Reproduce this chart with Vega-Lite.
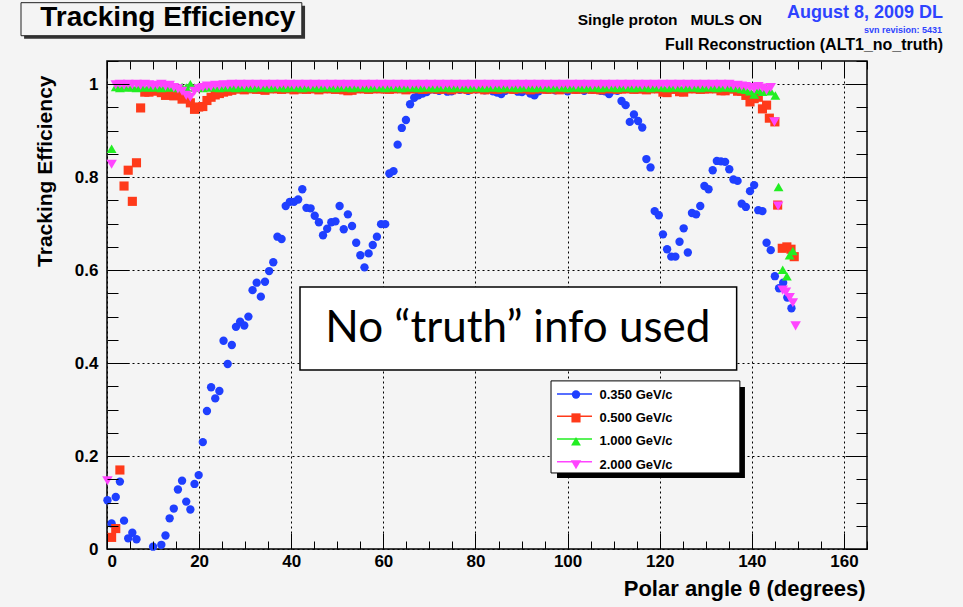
{
  "$schema": "https://vega.github.io/schema/vega-lite/v6.json",
  "width": 760,
  "height": 488,
  "autosize": {"type": "none"},
  "padding": {"left": 107, "top": 61, "right": 96, "bottom": 58},
  "background": "#f4f4f4",
  "config": {
    "view": {"stroke": "black", "strokeWidth": 1.5, "fill": null},
    "axis": {"domain": false, "labelFont": "Liberation Sans", "titleFont": "Liberation Sans"}
  },
  "resolve": {"axis": {"x": "independent", "y": "independent"}},
  "datasets": {
    "pts": [
      {"p":"0.350 GeV/c","theta":0.1,"eff":0.105},{"p":"0.350 GeV/c","theta":1.0,"eff":0.055},{"p":"0.350 GeV/c","theta":1.9,"eff":0.112},{"p":"0.350 GeV/c","theta":2.8,"eff":0.145},{"p":"0.350 GeV/c","theta":3.7,"eff":0.061},{"p":"0.350 GeV/c","theta":4.6,"eff":0.023},{"p":"0.350 GeV/c","theta":5.5,"eff":0.035},{"p":"0.350 GeV/c","theta":6.4,"eff":0.021},{"p":"0.350 GeV/c","theta":10.0,"eff":0.005},{"p":"0.350 GeV/c","theta":11.8,"eff":0.009},{"p":"0.350 GeV/c","theta":12.7,"eff":0.029},{"p":"0.350 GeV/c","theta":13.6,"eff":0.066},{"p":"0.350 GeV/c","theta":14.5,"eff":0.087},{"p":"0.350 GeV/c","theta":15.4,"eff":0.128},{"p":"0.350 GeV/c","theta":16.3,"eff":0.147},{"p":"0.350 GeV/c","theta":17.2,"eff":0.102},{"p":"0.350 GeV/c","theta":18.1,"eff":0.085},{"p":"0.350 GeV/c","theta":19.0,"eff":0.14},{"p":"0.350 GeV/c","theta":19.9,"eff":0.159},{"p":"0.350 GeV/c","theta":20.8,"eff":0.23},{"p":"0.350 GeV/c","theta":21.7,"eff":0.297},{"p":"0.350 GeV/c","theta":22.6,"eff":0.348},{"p":"0.350 GeV/c","theta":23.5,"eff":0.324},{"p":"0.350 GeV/c","theta":24.4,"eff":0.34},{"p":"0.350 GeV/c","theta":25.3,"eff":0.448},{"p":"0.350 GeV/c","theta":26.2,"eff":0.398},{"p":"0.350 GeV/c","theta":27.1,"eff":0.439},{"p":"0.350 GeV/c","theta":28.0,"eff":0.478},{"p":"0.350 GeV/c","theta":28.9,"eff":0.489},{"p":"0.350 GeV/c","theta":29.8,"eff":0.481},{"p":"0.350 GeV/c","theta":30.7,"eff":0.5},{"p":"0.350 GeV/c","theta":31.6,"eff":0.557},{"p":"0.350 GeV/c","theta":32.5,"eff":0.573},{"p":"0.350 GeV/c","theta":33.4,"eff":0.543},{"p":"0.350 GeV/c","theta":34.3,"eff":0.575},{"p":"0.350 GeV/c","theta":35.2,"eff":0.598},{"p":"0.350 GeV/c","theta":36.1,"eff":0.617},{"p":"0.350 GeV/c","theta":37.0,"eff":0.672},{"p":"0.350 GeV/c","theta":37.9,"eff":0.667},{"p":"0.350 GeV/c","theta":38.8,"eff":0.738},{"p":"0.350 GeV/c","theta":39.7,"eff":0.747},{"p":"0.350 GeV/c","theta":40.6,"eff":0.747},{"p":"0.350 GeV/c","theta":41.5,"eff":0.752},{"p":"0.350 GeV/c","theta":42.4,"eff":0.774},{"p":"0.350 GeV/c","theta":43.3,"eff":0.734},{"p":"0.350 GeV/c","theta":44.2,"eff":0.733},{"p":"0.350 GeV/c","theta":45.1,"eff":0.717},{"p":"0.350 GeV/c","theta":46.0,"eff":0.703},{"p":"0.350 GeV/c","theta":46.9,"eff":0.675},{"p":"0.350 GeV/c","theta":47.8,"eff":0.689},{"p":"0.350 GeV/c","theta":48.7,"eff":0.703},{"p":"0.350 GeV/c","theta":49.6,"eff":0.705},{"p":"0.350 GeV/c","theta":50.5,"eff":0.738},{"p":"0.350 GeV/c","theta":51.4,"eff":0.688},{"p":"0.350 GeV/c","theta":52.3,"eff":0.72},{"p":"0.350 GeV/c","theta":53.2,"eff":0.695},{"p":"0.350 GeV/c","theta":54.1,"eff":0.659},{"p":"0.350 GeV/c","theta":55.0,"eff":0.632},{"p":"0.350 GeV/c","theta":55.9,"eff":0.606},{"p":"0.350 GeV/c","theta":56.8,"eff":0.636},{"p":"0.350 GeV/c","theta":57.7,"eff":0.654},{"p":"0.350 GeV/c","theta":58.6,"eff":0.672},{"p":"0.350 GeV/c","theta":59.5,"eff":0.699},{"p":"0.350 GeV/c","theta":60.4,"eff":0.699},{"p":"0.350 GeV/c","theta":61.3,"eff":0.808},{"p":"0.350 GeV/c","theta":62.2,"eff":0.813},{"p":"0.350 GeV/c","theta":63.1,"eff":0.87},{"p":"0.350 GeV/c","theta":64.0,"eff":0.906},{"p":"0.350 GeV/c","theta":64.9,"eff":0.923},{"p":"0.350 GeV/c","theta":65.8,"eff":0.957},{"p":"0.350 GeV/c","theta":66.7,"eff":0.971},{"p":"0.350 GeV/c","theta":67.6,"eff":0.976},{"p":"0.350 GeV/c","theta":68.5,"eff":0.98},{"p":"0.350 GeV/c","theta":69.4,"eff":0.983},{"p":"0.350 GeV/c","theta":70.3,"eff":0.989},{"p":"0.350 GeV/c","theta":71.2,"eff":0.988},{"p":"0.350 GeV/c","theta":72.1,"eff":0.986},{"p":"0.350 GeV/c","theta":73.0,"eff":0.99},{"p":"0.350 GeV/c","theta":73.9,"eff":0.984},{"p":"0.350 GeV/c","theta":74.8,"eff":0.985},{"p":"0.350 GeV/c","theta":75.7,"eff":0.99},{"p":"0.350 GeV/c","theta":76.6,"eff":0.988},{"p":"0.350 GeV/c","theta":77.5,"eff":0.99},{"p":"0.350 GeV/c","theta":78.4,"eff":0.986},{"p":"0.350 GeV/c","theta":79.3,"eff":0.99},{"p":"0.350 GeV/c","theta":80.2,"eff":0.989},{"p":"0.350 GeV/c","theta":81.1,"eff":0.99},{"p":"0.350 GeV/c","theta":82.0,"eff":0.987},{"p":"0.350 GeV/c","theta":82.9,"eff":0.99},{"p":"0.350 GeV/c","theta":83.8,"eff":0.985},{"p":"0.350 GeV/c","theta":84.7,"eff":0.982},{"p":"0.350 GeV/c","theta":85.6,"eff":0.979},{"p":"0.350 GeV/c","theta":86.5,"eff":0.986},{"p":"0.350 GeV/c","theta":87.4,"eff":0.99},{"p":"0.350 GeV/c","theta":88.3,"eff":0.988},{"p":"0.350 GeV/c","theta":89.2,"eff":0.984},{"p":"0.350 GeV/c","theta":90.1,"eff":0.983},{"p":"0.350 GeV/c","theta":91.0,"eff":0.987},{"p":"0.350 GeV/c","theta":91.9,"eff":0.98},{"p":"0.350 GeV/c","theta":92.8,"eff":0.976},{"p":"0.350 GeV/c","theta":93.7,"eff":0.985},{"p":"0.350 GeV/c","theta":94.6,"eff":0.99},{"p":"0.350 GeV/c","theta":95.5,"eff":0.988},{"p":"0.350 GeV/c","theta":96.4,"eff":0.99},{"p":"0.350 GeV/c","theta":97.3,"eff":0.987},{"p":"0.350 GeV/c","theta":98.2,"eff":0.99},{"p":"0.350 GeV/c","theta":99.1,"eff":0.989},{"p":"0.350 GeV/c","theta":100.0,"eff":0.985},{"p":"0.350 GeV/c","theta":100.9,"eff":0.99},{"p":"0.350 GeV/c","theta":101.8,"eff":0.988},{"p":"0.350 GeV/c","theta":102.7,"eff":0.99},{"p":"0.350 GeV/c","theta":103.6,"eff":0.986},{"p":"0.350 GeV/c","theta":104.5,"eff":0.99},{"p":"0.350 GeV/c","theta":105.4,"eff":0.988},{"p":"0.350 GeV/c","theta":106.3,"eff":0.99},{"p":"0.350 GeV/c","theta":107.2,"eff":0.986},{"p":"0.350 GeV/c","theta":108.1,"eff":0.985},{"p":"0.350 GeV/c","theta":109.0,"eff":0.979},{"p":"0.350 GeV/c","theta":109.9,"eff":0.987},{"p":"0.350 GeV/c","theta":110.8,"eff":0.986},{"p":"0.350 GeV/c","theta":111.7,"eff":0.964},{"p":"0.350 GeV/c","theta":112.6,"eff":0.955},{"p":"0.350 GeV/c","theta":113.5,"eff":0.919},{"p":"0.350 GeV/c","theta":114.4,"eff":0.935},{"p":"0.350 GeV/c","theta":115.3,"eff":0.921},{"p":"0.350 GeV/c","theta":116.2,"eff":0.907},{"p":"0.350 GeV/c","theta":117.1,"eff":0.839},{"p":"0.350 GeV/c","theta":118.0,"eff":0.821},{"p":"0.350 GeV/c","theta":118.9,"eff":0.727},{"p":"0.350 GeV/c","theta":119.8,"eff":0.718},{"p":"0.350 GeV/c","theta":120.7,"eff":0.677},{"p":"0.350 GeV/c","theta":121.6,"eff":0.645},{"p":"0.350 GeV/c","theta":122.5,"eff":0.629},{"p":"0.350 GeV/c","theta":123.4,"eff":0.629},{"p":"0.350 GeV/c","theta":124.3,"eff":0.661},{"p":"0.350 GeV/c","theta":125.2,"eff":0.69},{"p":"0.350 GeV/c","theta":126.1,"eff":0.638},{"p":"0.350 GeV/c","theta":127.0,"eff":0.723},{"p":"0.350 GeV/c","theta":127.9,"eff":0.72},{"p":"0.350 GeV/c","theta":128.8,"eff":0.738},{"p":"0.350 GeV/c","theta":129.7,"eff":0.781},{"p":"0.350 GeV/c","theta":130.6,"eff":0.774},{"p":"0.350 GeV/c","theta":131.5,"eff":0.815},{"p":"0.350 GeV/c","theta":132.4,"eff":0.835},{"p":"0.350 GeV/c","theta":133.3,"eff":0.834},{"p":"0.350 GeV/c","theta":134.2,"eff":0.833},{"p":"0.350 GeV/c","theta":135.1,"eff":0.817},{"p":"0.350 GeV/c","theta":136.0,"eff":0.795},{"p":"0.350 GeV/c","theta":136.9,"eff":0.792},{"p":"0.350 GeV/c","theta":137.8,"eff":0.743},{"p":"0.350 GeV/c","theta":138.7,"eff":0.736},{"p":"0.350 GeV/c","theta":139.6,"eff":0.77},{"p":"0.350 GeV/c","theta":140.5,"eff":0.783},{"p":"0.350 GeV/c","theta":141.4,"eff":0.729},{"p":"0.350 GeV/c","theta":142.3,"eff":0.727},{"p":"0.350 GeV/c","theta":143.2,"eff":0.659},{"p":"0.350 GeV/c","theta":144.1,"eff":0.643},{"p":"0.350 GeV/c","theta":145.0,"eff":0.587},{"p":"0.350 GeV/c","theta":145.9,"eff":0.561},{"p":"0.350 GeV/c","theta":146.8,"eff":0.573},{"p":"0.350 GeV/c","theta":147.7,"eff":0.541},{"p":"0.350 GeV/c","theta":148.6,"eff":0.518},

      {"p":"0.500 GeV/c","theta":1.0,"eff":0.025},{"p":"0.500 GeV/c","theta":1.9,"eff":0.044},{"p":"0.500 GeV/c","theta":2.8,"eff":0.17},{"p":"0.500 GeV/c","theta":3.7,"eff":0.781},{"p":"0.500 GeV/c","theta":4.6,"eff":0.815},{"p":"0.500 GeV/c","theta":5.5,"eff":0.748},{"p":"0.500 GeV/c","theta":6.4,"eff":0.831},{"p":"0.500 GeV/c","theta":7.3,"eff":0.949},{"p":"0.500 GeV/c","theta":8.2,"eff":0.983},{"p":"0.500 GeV/c","theta":9.1,"eff":0.983},{"p":"0.500 GeV/c","theta":10.0,"eff":0.988},{"p":"0.500 GeV/c","theta":10.9,"eff":0.985},{"p":"0.500 GeV/c","theta":11.8,"eff":0.982},{"p":"0.500 GeV/c","theta":12.7,"eff":0.976},{"p":"0.500 GeV/c","theta":13.6,"eff":0.985},{"p":"0.500 GeV/c","theta":14.5,"eff":0.975},{"p":"0.500 GeV/c","theta":15.4,"eff":0.98},{"p":"0.500 GeV/c","theta":16.3,"eff":0.968},{"p":"0.500 GeV/c","theta":17.2,"eff":0.972},{"p":"0.500 GeV/c","theta":18.1,"eff":0.96},{"p":"0.500 GeV/c","theta":19.0,"eff":0.946},{"p":"0.500 GeV/c","theta":19.9,"eff":0.951},{"p":"0.500 GeV/c","theta":20.8,"eff":0.952},{"p":"0.500 GeV/c","theta":21.7,"eff":0.965},{"p":"0.500 GeV/c","theta":22.6,"eff":0.972},{"p":"0.500 GeV/c","theta":23.5,"eff":0.977},{"p":"0.500 GeV/c","theta":24.4,"eff":0.98},{"p":"0.500 GeV/c","theta":25.3,"eff":0.983},{"p":"0.500 GeV/c","theta":26.2,"eff":0.985},{"p":"0.500 GeV/c","theta":27.1,"eff":0.987},{"p":"0.500 GeV/c","theta":28.0,"eff":0.99},{"p":"0.500 GeV/c","theta":28.9,"eff":0.99},{"p":"0.500 GeV/c","theta":29.8,"eff":0.988},{"p":"0.500 GeV/c","theta":30.7,"eff":0.99},{"p":"0.500 GeV/c","theta":31.6,"eff":0.991},{"p":"0.500 GeV/c","theta":32.5,"eff":0.989},{"p":"0.500 GeV/c","theta":33.4,"eff":0.99},{"p":"0.500 GeV/c","theta":34.3,"eff":0.987},{"p":"0.500 GeV/c","theta":35.2,"eff":0.99},{"p":"0.500 GeV/c","theta":36.1,"eff":0.991},{"p":"0.500 GeV/c","theta":37.0,"eff":0.99},{"p":"0.500 GeV/c","theta":37.9,"eff":0.989},{"p":"0.500 GeV/c","theta":38.8,"eff":0.99},{"p":"0.500 GeV/c","theta":39.7,"eff":0.991},{"p":"0.500 GeV/c","theta":40.6,"eff":0.988},{"p":"0.500 GeV/c","theta":41.5,"eff":0.99},{"p":"0.500 GeV/c","theta":42.4,"eff":0.99},{"p":"0.500 GeV/c","theta":43.3,"eff":0.989},{"p":"0.500 GeV/c","theta":44.2,"eff":0.991},{"p":"0.500 GeV/c","theta":45.1,"eff":0.99},{"p":"0.500 GeV/c","theta":46.0,"eff":0.988},{"p":"0.500 GeV/c","theta":46.9,"eff":0.99},{"p":"0.500 GeV/c","theta":47.8,"eff":0.991},{"p":"0.500 GeV/c","theta":48.7,"eff":0.99},{"p":"0.500 GeV/c","theta":49.6,"eff":0.989},{"p":"0.500 GeV/c","theta":50.5,"eff":0.99},{"p":"0.500 GeV/c","theta":51.4,"eff":0.988},{"p":"0.500 GeV/c","theta":52.3,"eff":0.986},{"p":"0.500 GeV/c","theta":53.2,"eff":0.987},{"p":"0.500 GeV/c","theta":54.1,"eff":0.99},{"p":"0.500 GeV/c","theta":55.0,"eff":0.991},{"p":"0.500 GeV/c","theta":55.9,"eff":0.99},{"p":"0.500 GeV/c","theta":56.8,"eff":0.989},{"p":"0.500 GeV/c","theta":57.7,"eff":0.99},{"p":"0.500 GeV/c","theta":58.6,"eff":0.991},{"p":"0.500 GeV/c","theta":59.5,"eff":0.99},{"p":"0.500 GeV/c","theta":60.4,"eff":0.99},{"p":"0.500 GeV/c","theta":61.3,"eff":0.989},{"p":"0.500 GeV/c","theta":62.2,"eff":0.99},{"p":"0.500 GeV/c","theta":63.1,"eff":0.991},{"p":"0.500 GeV/c","theta":64.0,"eff":0.99},{"p":"0.500 GeV/c","theta":64.9,"eff":0.988},{"p":"0.500 GeV/c","theta":65.8,"eff":0.99},{"p":"0.500 GeV/c","theta":66.7,"eff":0.991},{"p":"0.500 GeV/c","theta":67.6,"eff":0.99},{"p":"0.500 GeV/c","theta":68.5,"eff":0.989},{"p":"0.500 GeV/c","theta":69.4,"eff":0.99},{"p":"0.500 GeV/c","theta":70.3,"eff":0.99},{"p":"0.500 GeV/c","theta":71.2,"eff":0.991},{"p":"0.500 GeV/c","theta":72.1,"eff":0.989},{"p":"0.500 GeV/c","theta":73.0,"eff":0.99},{"p":"0.500 GeV/c","theta":73.9,"eff":0.99},{"p":"0.500 GeV/c","theta":74.8,"eff":0.988},{"p":"0.500 GeV/c","theta":75.7,"eff":0.99},{"p":"0.500 GeV/c","theta":76.6,"eff":0.991},{"p":"0.500 GeV/c","theta":77.5,"eff":0.99},{"p":"0.500 GeV/c","theta":78.4,"eff":0.989},{"p":"0.500 GeV/c","theta":79.3,"eff":0.99},{"p":"0.500 GeV/c","theta":80.2,"eff":0.991},{"p":"0.500 GeV/c","theta":81.1,"eff":0.99},{"p":"0.500 GeV/c","theta":82.0,"eff":0.988},{"p":"0.500 GeV/c","theta":82.9,"eff":0.99},{"p":"0.500 GeV/c","theta":83.8,"eff":0.99},{"p":"0.500 GeV/c","theta":84.7,"eff":0.989},{"p":"0.500 GeV/c","theta":85.6,"eff":0.99},{"p":"0.500 GeV/c","theta":86.5,"eff":0.991},{"p":"0.500 GeV/c","theta":87.4,"eff":0.99},{"p":"0.500 GeV/c","theta":88.3,"eff":0.989},{"p":"0.500 GeV/c","theta":89.2,"eff":0.99},{"p":"0.500 GeV/c","theta":90.1,"eff":0.991},{"p":"0.500 GeV/c","theta":91.0,"eff":0.99},{"p":"0.500 GeV/c","theta":91.9,"eff":0.988},{"p":"0.500 GeV/c","theta":92.8,"eff":0.99},{"p":"0.500 GeV/c","theta":93.7,"eff":0.99},{"p":"0.500 GeV/c","theta":94.6,"eff":0.991},{"p":"0.500 GeV/c","theta":95.5,"eff":0.989},{"p":"0.500 GeV/c","theta":96.4,"eff":0.99},{"p":"0.500 GeV/c","theta":97.3,"eff":0.99},{"p":"0.500 GeV/c","theta":98.2,"eff":0.988},{"p":"0.500 GeV/c","theta":99.1,"eff":0.99},{"p":"0.500 GeV/c","theta":100.0,"eff":0.991},{"p":"0.500 GeV/c","theta":100.9,"eff":0.99},{"p":"0.500 GeV/c","theta":101.8,"eff":0.989},{"p":"0.500 GeV/c","theta":102.7,"eff":0.99},{"p":"0.500 GeV/c","theta":103.6,"eff":0.99},{"p":"0.500 GeV/c","theta":104.5,"eff":0.991},{"p":"0.500 GeV/c","theta":105.4,"eff":0.989},{"p":"0.500 GeV/c","theta":106.3,"eff":0.99},{"p":"0.500 GeV/c","theta":107.2,"eff":0.988},{"p":"0.500 GeV/c","theta":108.1,"eff":0.99},{"p":"0.500 GeV/c","theta":109.0,"eff":0.991},{"p":"0.500 GeV/c","theta":109.9,"eff":0.99},{"p":"0.500 GeV/c","theta":110.8,"eff":0.989},{"p":"0.500 GeV/c","theta":111.7,"eff":0.99},{"p":"0.500 GeV/c","theta":112.6,"eff":0.99},{"p":"0.500 GeV/c","theta":113.5,"eff":0.991},{"p":"0.500 GeV/c","theta":114.4,"eff":0.989},{"p":"0.500 GeV/c","theta":115.3,"eff":0.99},{"p":"0.500 GeV/c","theta":116.2,"eff":0.99},{"p":"0.500 GeV/c","theta":117.1,"eff":0.988},{"p":"0.500 GeV/c","theta":118.0,"eff":0.99},{"p":"0.500 GeV/c","theta":118.9,"eff":0.991},{"p":"0.500 GeV/c","theta":119.8,"eff":0.99},{"p":"0.500 GeV/c","theta":120.7,"eff":0.983},{"p":"0.500 GeV/c","theta":121.6,"eff":0.982},{"p":"0.500 GeV/c","theta":122.5,"eff":0.989},{"p":"0.500 GeV/c","theta":123.4,"eff":0.99},{"p":"0.500 GeV/c","theta":124.3,"eff":0.984},{"p":"0.500 GeV/c","theta":125.2,"eff":0.983},{"p":"0.500 GeV/c","theta":126.1,"eff":0.99},{"p":"0.500 GeV/c","theta":127.0,"eff":0.991},{"p":"0.500 GeV/c","theta":127.9,"eff":0.99},{"p":"0.500 GeV/c","theta":128.8,"eff":0.989},{"p":"0.500 GeV/c","theta":129.7,"eff":0.99},{"p":"0.500 GeV/c","theta":130.6,"eff":0.99},{"p":"0.500 GeV/c","theta":131.5,"eff":0.991},{"p":"0.500 GeV/c","theta":132.4,"eff":0.99},{"p":"0.500 GeV/c","theta":133.3,"eff":0.986},{"p":"0.500 GeV/c","theta":134.2,"eff":0.986},{"p":"0.500 GeV/c","theta":135.1,"eff":0.99},{"p":"0.500 GeV/c","theta":136.0,"eff":0.99},{"p":"0.500 GeV/c","theta":136.9,"eff":0.985},{"p":"0.500 GeV/c","theta":137.8,"eff":0.985},{"p":"0.500 GeV/c","theta":138.7,"eff":0.976},{"p":"0.500 GeV/c","theta":139.6,"eff":0.962},{"p":"0.500 GeV/c","theta":140.5,"eff":0.969},{"p":"0.500 GeV/c","theta":141.4,"eff":0.972},{"p":"0.500 GeV/c","theta":142.3,"eff":0.947},{"p":"0.500 GeV/c","theta":143.2,"eff":0.955},{"p":"0.500 GeV/c","theta":143.8,"eff":0.927},{"p":"0.500 GeV/c","theta":145.0,"eff":0.919},{"p":"0.500 GeV/c","theta":145.6,"eff":0.74},{"p":"0.500 GeV/c","theta":146.6,"eff":0.647},{"p":"0.500 GeV/c","theta":147.6,"eff":0.65},{"p":"0.500 GeV/c","theta":148.5,"eff":0.645},{"p":"0.500 GeV/c","theta":149.2,"eff":0.629},

      {"p":"1.000 GeV/c","theta":1.0,"eff":0.861},{"p":"1.000 GeV/c","theta":1.9,"eff":0.994},{"p":"1.000 GeV/c","theta":2.8,"eff":0.992},{"p":"1.000 GeV/c","theta":3.7,"eff":0.995},{"p":"1.000 GeV/c","theta":4.6,"eff":0.993},{"p":"1.000 GeV/c","theta":5.5,"eff":0.994},{"p":"1.000 GeV/c","theta":6.4,"eff":0.992},{"p":"1.000 GeV/c","theta":7.3,"eff":0.995},{"p":"1.000 GeV/c","theta":8.2,"eff":0.993},{"p":"1.000 GeV/c","theta":9.1,"eff":0.994},{"p":"1.000 GeV/c","theta":10.0,"eff":0.993},{"p":"1.000 GeV/c","theta":10.9,"eff":0.995},{"p":"1.000 GeV/c","theta":11.8,"eff":0.992},{"p":"1.000 GeV/c","theta":12.7,"eff":0.994},{"p":"1.000 GeV/c","theta":13.6,"eff":0.993},{"p":"1.000 GeV/c","theta":14.5,"eff":0.995},{"p":"1.000 GeV/c","theta":15.4,"eff":0.992},{"p":"1.000 GeV/c","theta":16.3,"eff":0.994},{"p":"1.000 GeV/c","theta":17.2,"eff":0.993},{"p":"1.000 GeV/c","theta":18.1,"eff":1.0},{"p":"1.000 GeV/c","theta":19.0,"eff":0.993},{"p":"1.000 GeV/c","theta":19.9,"eff":0.994},{"p":"1.000 GeV/c","theta":20.8,"eff":0.992},{"p":"1.000 GeV/c","theta":21.7,"eff":0.995},{"p":"1.000 GeV/c","theta":22.6,"eff":0.993},{"p":"1.000 GeV/c","theta":23.5,"eff":0.994},{"p":"1.000 GeV/c","theta":24.4,"eff":0.992},{"p":"1.000 GeV/c","theta":25.3,"eff":0.995},{"p":"1.000 GeV/c","theta":26.2,"eff":0.993},{"p":"1.000 GeV/c","theta":27.1,"eff":0.994},{"p":"1.000 GeV/c","theta":28.0,"eff":0.992},{"p":"1.000 GeV/c","theta":28.9,"eff":0.995},{"p":"1.000 GeV/c","theta":29.8,"eff":0.993},{"p":"1.000 GeV/c","theta":30.7,"eff":0.994},{"p":"1.000 GeV/c","theta":31.6,"eff":0.992},{"p":"1.000 GeV/c","theta":32.5,"eff":0.995},{"p":"1.000 GeV/c","theta":33.4,"eff":0.993},{"p":"1.000 GeV/c","theta":34.3,"eff":0.994},{"p":"1.000 GeV/c","theta":35.2,"eff":0.992},{"p":"1.000 GeV/c","theta":36.1,"eff":0.995},{"p":"1.000 GeV/c","theta":37.0,"eff":0.993},{"p":"1.000 GeV/c","theta":37.9,"eff":0.994},{"p":"1.000 GeV/c","theta":38.8,"eff":0.992},{"p":"1.000 GeV/c","theta":39.7,"eff":0.995},{"p":"1.000 GeV/c","theta":40.6,"eff":0.993},{"p":"1.000 GeV/c","theta":41.5,"eff":0.994},{"p":"1.000 GeV/c","theta":42.4,"eff":0.992},{"p":"1.000 GeV/c","theta":43.3,"eff":0.995},{"p":"1.000 GeV/c","theta":44.2,"eff":0.993},{"p":"1.000 GeV/c","theta":45.1,"eff":0.994},{"p":"1.000 GeV/c","theta":46.0,"eff":0.992},{"p":"1.000 GeV/c","theta":46.9,"eff":0.995},{"p":"1.000 GeV/c","theta":47.8,"eff":0.993},{"p":"1.000 GeV/c","theta":48.7,"eff":0.994},{"p":"1.000 GeV/c","theta":49.6,"eff":0.992},{"p":"1.000 GeV/c","theta":50.5,"eff":0.995},{"p":"1.000 GeV/c","theta":51.4,"eff":0.993},{"p":"1.000 GeV/c","theta":52.3,"eff":0.994},{"p":"1.000 GeV/c","theta":53.2,"eff":0.992},{"p":"1.000 GeV/c","theta":54.1,"eff":0.995},{"p":"1.000 GeV/c","theta":55.0,"eff":0.993},{"p":"1.000 GeV/c","theta":55.9,"eff":0.994},{"p":"1.000 GeV/c","theta":56.8,"eff":0.992},{"p":"1.000 GeV/c","theta":57.7,"eff":0.995},{"p":"1.000 GeV/c","theta":58.6,"eff":0.993},{"p":"1.000 GeV/c","theta":59.5,"eff":0.994},{"p":"1.000 GeV/c","theta":60.4,"eff":0.992},{"p":"1.000 GeV/c","theta":61.3,"eff":0.995},{"p":"1.000 GeV/c","theta":62.2,"eff":0.993},{"p":"1.000 GeV/c","theta":63.1,"eff":0.994},{"p":"1.000 GeV/c","theta":64.0,"eff":0.992},{"p":"1.000 GeV/c","theta":64.9,"eff":0.995},{"p":"1.000 GeV/c","theta":65.8,"eff":0.993},{"p":"1.000 GeV/c","theta":66.7,"eff":0.994},{"p":"1.000 GeV/c","theta":67.6,"eff":0.992},{"p":"1.000 GeV/c","theta":68.5,"eff":0.995},{"p":"1.000 GeV/c","theta":69.4,"eff":0.993},{"p":"1.000 GeV/c","theta":70.3,"eff":0.994},{"p":"1.000 GeV/c","theta":71.2,"eff":0.992},{"p":"1.000 GeV/c","theta":72.1,"eff":0.995},{"p":"1.000 GeV/c","theta":73.0,"eff":0.993},{"p":"1.000 GeV/c","theta":73.9,"eff":0.994},{"p":"1.000 GeV/c","theta":74.8,"eff":0.992},{"p":"1.000 GeV/c","theta":75.7,"eff":0.995},{"p":"1.000 GeV/c","theta":76.6,"eff":0.993},{"p":"1.000 GeV/c","theta":77.5,"eff":0.994},{"p":"1.000 GeV/c","theta":78.4,"eff":0.992},{"p":"1.000 GeV/c","theta":79.3,"eff":0.995},{"p":"1.000 GeV/c","theta":80.2,"eff":0.993},{"p":"1.000 GeV/c","theta":81.1,"eff":0.994},{"p":"1.000 GeV/c","theta":82.0,"eff":0.992},{"p":"1.000 GeV/c","theta":82.9,"eff":0.995},{"p":"1.000 GeV/c","theta":83.8,"eff":0.993},{"p":"1.000 GeV/c","theta":84.7,"eff":0.994},{"p":"1.000 GeV/c","theta":85.6,"eff":0.992},{"p":"1.000 GeV/c","theta":86.5,"eff":0.995},{"p":"1.000 GeV/c","theta":87.4,"eff":0.993},{"p":"1.000 GeV/c","theta":88.3,"eff":0.994},{"p":"1.000 GeV/c","theta":89.2,"eff":0.992},{"p":"1.000 GeV/c","theta":90.1,"eff":0.995},{"p":"1.000 GeV/c","theta":91.0,"eff":0.993},{"p":"1.000 GeV/c","theta":91.9,"eff":0.994},{"p":"1.000 GeV/c","theta":92.8,"eff":0.992},{"p":"1.000 GeV/c","theta":93.7,"eff":0.995},{"p":"1.000 GeV/c","theta":94.6,"eff":0.993},{"p":"1.000 GeV/c","theta":95.5,"eff":0.994},{"p":"1.000 GeV/c","theta":96.4,"eff":0.992},{"p":"1.000 GeV/c","theta":97.3,"eff":0.995},{"p":"1.000 GeV/c","theta":98.2,"eff":0.993},{"p":"1.000 GeV/c","theta":99.1,"eff":0.994},{"p":"1.000 GeV/c","theta":100.0,"eff":0.992},{"p":"1.000 GeV/c","theta":100.9,"eff":0.995},{"p":"1.000 GeV/c","theta":101.8,"eff":0.993},{"p":"1.000 GeV/c","theta":102.7,"eff":0.994},{"p":"1.000 GeV/c","theta":103.6,"eff":0.992},{"p":"1.000 GeV/c","theta":104.5,"eff":0.995},{"p":"1.000 GeV/c","theta":105.4,"eff":0.993},{"p":"1.000 GeV/c","theta":106.3,"eff":0.994},{"p":"1.000 GeV/c","theta":107.2,"eff":0.992},{"p":"1.000 GeV/c","theta":108.1,"eff":0.995},{"p":"1.000 GeV/c","theta":109.0,"eff":0.993},{"p":"1.000 GeV/c","theta":109.9,"eff":0.994},{"p":"1.000 GeV/c","theta":110.8,"eff":0.992},{"p":"1.000 GeV/c","theta":111.7,"eff":0.995},{"p":"1.000 GeV/c","theta":112.6,"eff":0.993},{"p":"1.000 GeV/c","theta":113.5,"eff":0.994},{"p":"1.000 GeV/c","theta":114.4,"eff":0.992},{"p":"1.000 GeV/c","theta":115.3,"eff":0.995},{"p":"1.000 GeV/c","theta":116.2,"eff":0.993},{"p":"1.000 GeV/c","theta":117.1,"eff":0.994},{"p":"1.000 GeV/c","theta":118.0,"eff":0.992},{"p":"1.000 GeV/c","theta":118.9,"eff":0.995},{"p":"1.000 GeV/c","theta":119.8,"eff":0.993},{"p":"1.000 GeV/c","theta":120.7,"eff":0.994},{"p":"1.000 GeV/c","theta":121.6,"eff":0.992},{"p":"1.000 GeV/c","theta":122.5,"eff":0.995},{"p":"1.000 GeV/c","theta":123.4,"eff":0.993},{"p":"1.000 GeV/c","theta":124.3,"eff":0.994},{"p":"1.000 GeV/c","theta":125.2,"eff":0.992},{"p":"1.000 GeV/c","theta":126.1,"eff":0.995},{"p":"1.000 GeV/c","theta":127.0,"eff":0.993},{"p":"1.000 GeV/c","theta":127.9,"eff":0.994},{"p":"1.000 GeV/c","theta":128.8,"eff":0.992},{"p":"1.000 GeV/c","theta":129.7,"eff":0.995},{"p":"1.000 GeV/c","theta":130.6,"eff":0.993},{"p":"1.000 GeV/c","theta":131.5,"eff":0.994},{"p":"1.000 GeV/c","theta":132.4,"eff":0.992},{"p":"1.000 GeV/c","theta":133.3,"eff":0.995},{"p":"1.000 GeV/c","theta":134.2,"eff":0.993},{"p":"1.000 GeV/c","theta":135.1,"eff":0.994},{"p":"1.000 GeV/c","theta":136.0,"eff":0.992},{"p":"1.000 GeV/c","theta":136.9,"eff":0.993},{"p":"1.000 GeV/c","theta":137.8,"eff":0.99},{"p":"1.000 GeV/c","theta":138.7,"eff":0.988},{"p":"1.000 GeV/c","theta":139.6,"eff":0.985},{"p":"1.000 GeV/c","theta":140.5,"eff":0.978},{"p":"1.000 GeV/c","theta":141.4,"eff":0.988},{"p":"1.000 GeV/c","theta":142.3,"eff":0.984},{"p":"1.000 GeV/c","theta":143.2,"eff":0.99},{"p":"1.000 GeV/c","theta":144.1,"eff":0.985},{"p":"1.000 GeV/c","theta":145.1,"eff":0.976},{"p":"1.000 GeV/c","theta":145.8,"eff":0.779},{"p":"1.000 GeV/c","theta":146.7,"eff":0.601},{"p":"1.000 GeV/c","theta":147.6,"eff":0.587},{"p":"1.000 GeV/c","theta":148.2,"eff":0.632},{"p":"1.000 GeV/c","theta":148.9,"eff":0.641},

      {"p":"2.000 GeV/c","theta":0.1,"eff":0.147},{"p":"2.000 GeV/c","theta":1.0,"eff":0.828},{"p":"2.000 GeV/c","theta":1.9,"eff":0.999},{"p":"2.000 GeV/c","theta":2.8,"eff":1.0},{"p":"2.000 GeV/c","theta":3.7,"eff":0.998},{"p":"2.000 GeV/c","theta":4.6,"eff":1.0},{"p":"2.000 GeV/c","theta":5.5,"eff":0.999},{"p":"2.000 GeV/c","theta":6.4,"eff":1.0},{"p":"2.000 GeV/c","theta":7.3,"eff":0.998},{"p":"2.000 GeV/c","theta":8.2,"eff":1.0},{"p":"2.000 GeV/c","theta":9.1,"eff":0.999},{"p":"2.000 GeV/c","theta":10.0,"eff":0.997},{"p":"2.000 GeV/c","theta":10.9,"eff":0.998},{"p":"2.000 GeV/c","theta":11.8,"eff":1.0},{"p":"2.000 GeV/c","theta":12.7,"eff":0.996},{"p":"2.000 GeV/c","theta":13.6,"eff":0.998},{"p":"2.000 GeV/c","theta":14.5,"eff":0.993},{"p":"2.000 GeV/c","theta":15.4,"eff":0.99},{"p":"2.000 GeV/c","theta":16.3,"eff":0.985},{"p":"2.000 GeV/c","theta":17.2,"eff":0.976},{"p":"2.000 GeV/c","theta":18.1,"eff":0.972},{"p":"2.000 GeV/c","theta":19.0,"eff":0.985},{"p":"2.000 GeV/c","theta":19.9,"eff":0.99},{"p":"2.000 GeV/c","theta":20.8,"eff":0.993},{"p":"2.000 GeV/c","theta":21.7,"eff":0.996},{"p":"2.000 GeV/c","theta":22.6,"eff":0.995},{"p":"2.000 GeV/c","theta":23.5,"eff":0.998},{"p":"2.000 GeV/c","theta":24.4,"eff":0.997},{"p":"2.000 GeV/c","theta":25.3,"eff":0.999},{"p":"2.000 GeV/c","theta":26.2,"eff":0.998},{"p":"2.000 GeV/c","theta":27.1,"eff":1.0},{"p":"2.000 GeV/c","theta":28.0,"eff":0.999},{"p":"2.000 GeV/c","theta":28.9,"eff":1.0},{"p":"2.000 GeV/c","theta":29.8,"eff":0.998},{"p":"2.000 GeV/c","theta":30.7,"eff":1.0},{"p":"2.000 GeV/c","theta":31.6,"eff":0.999},{"p":"2.000 GeV/c","theta":32.5,"eff":1.0},{"p":"2.000 GeV/c","theta":33.4,"eff":0.998},{"p":"2.000 GeV/c","theta":34.3,"eff":1.0},{"p":"2.000 GeV/c","theta":35.2,"eff":0.999},{"p":"2.000 GeV/c","theta":36.1,"eff":1.0},{"p":"2.000 GeV/c","theta":37.0,"eff":0.998},{"p":"2.000 GeV/c","theta":37.9,"eff":1.0},{"p":"2.000 GeV/c","theta":38.8,"eff":0.999},{"p":"2.000 GeV/c","theta":39.7,"eff":1.0},{"p":"2.000 GeV/c","theta":40.6,"eff":0.998},{"p":"2.000 GeV/c","theta":41.5,"eff":1.0},{"p":"2.000 GeV/c","theta":42.4,"eff":0.999},{"p":"2.000 GeV/c","theta":43.3,"eff":1.0},{"p":"2.000 GeV/c","theta":44.2,"eff":0.998},{"p":"2.000 GeV/c","theta":45.1,"eff":1.0},{"p":"2.000 GeV/c","theta":46.0,"eff":0.999},{"p":"2.000 GeV/c","theta":46.9,"eff":1.0},{"p":"2.000 GeV/c","theta":47.8,"eff":0.998},{"p":"2.000 GeV/c","theta":48.7,"eff":1.0},{"p":"2.000 GeV/c","theta":49.6,"eff":0.999},{"p":"2.000 GeV/c","theta":50.5,"eff":1.0},{"p":"2.000 GeV/c","theta":51.4,"eff":0.998},{"p":"2.000 GeV/c","theta":52.3,"eff":1.0},{"p":"2.000 GeV/c","theta":53.2,"eff":0.999},{"p":"2.000 GeV/c","theta":54.1,"eff":1.0},{"p":"2.000 GeV/c","theta":55.0,"eff":0.998},{"p":"2.000 GeV/c","theta":55.9,"eff":1.0},{"p":"2.000 GeV/c","theta":56.8,"eff":0.999},{"p":"2.000 GeV/c","theta":57.7,"eff":1.0},{"p":"2.000 GeV/c","theta":58.6,"eff":0.998},{"p":"2.000 GeV/c","theta":59.5,"eff":1.0},{"p":"2.000 GeV/c","theta":60.4,"eff":0.999},{"p":"2.000 GeV/c","theta":61.3,"eff":1.0},{"p":"2.000 GeV/c","theta":62.2,"eff":0.998},{"p":"2.000 GeV/c","theta":63.1,"eff":1.0},{"p":"2.000 GeV/c","theta":64.0,"eff":0.999},{"p":"2.000 GeV/c","theta":64.9,"eff":1.0},{"p":"2.000 GeV/c","theta":65.8,"eff":0.998},{"p":"2.000 GeV/c","theta":66.7,"eff":1.0},{"p":"2.000 GeV/c","theta":67.6,"eff":0.999},{"p":"2.000 GeV/c","theta":68.5,"eff":1.0},{"p":"2.000 GeV/c","theta":69.4,"eff":0.998},{"p":"2.000 GeV/c","theta":70.3,"eff":1.0},{"p":"2.000 GeV/c","theta":71.2,"eff":0.999},{"p":"2.000 GeV/c","theta":72.1,"eff":1.0},{"p":"2.000 GeV/c","theta":73.0,"eff":0.998},{"p":"2.000 GeV/c","theta":73.9,"eff":1.0},{"p":"2.000 GeV/c","theta":74.8,"eff":0.999},{"p":"2.000 GeV/c","theta":75.7,"eff":1.0},{"p":"2.000 GeV/c","theta":76.6,"eff":0.998},{"p":"2.000 GeV/c","theta":77.5,"eff":1.0},{"p":"2.000 GeV/c","theta":78.4,"eff":0.999},{"p":"2.000 GeV/c","theta":79.3,"eff":1.0},{"p":"2.000 GeV/c","theta":80.2,"eff":0.998},{"p":"2.000 GeV/c","theta":81.1,"eff":1.0},{"p":"2.000 GeV/c","theta":82.0,"eff":0.999},{"p":"2.000 GeV/c","theta":82.9,"eff":1.0},{"p":"2.000 GeV/c","theta":83.8,"eff":0.998},{"p":"2.000 GeV/c","theta":84.7,"eff":1.0},{"p":"2.000 GeV/c","theta":85.6,"eff":0.999},{"p":"2.000 GeV/c","theta":86.5,"eff":1.0},{"p":"2.000 GeV/c","theta":87.4,"eff":0.998},{"p":"2.000 GeV/c","theta":88.3,"eff":1.0},{"p":"2.000 GeV/c","theta":89.2,"eff":0.999},{"p":"2.000 GeV/c","theta":90.1,"eff":1.0},{"p":"2.000 GeV/c","theta":91.0,"eff":0.998},{"p":"2.000 GeV/c","theta":91.9,"eff":1.0},{"p":"2.000 GeV/c","theta":92.8,"eff":0.999},{"p":"2.000 GeV/c","theta":93.7,"eff":1.0},{"p":"2.000 GeV/c","theta":94.6,"eff":0.998},{"p":"2.000 GeV/c","theta":95.5,"eff":1.0},{"p":"2.000 GeV/c","theta":96.4,"eff":0.999},{"p":"2.000 GeV/c","theta":97.3,"eff":1.0},{"p":"2.000 GeV/c","theta":98.2,"eff":0.998},{"p":"2.000 GeV/c","theta":99.1,"eff":1.0},{"p":"2.000 GeV/c","theta":100.0,"eff":0.999},{"p":"2.000 GeV/c","theta":100.9,"eff":1.0},{"p":"2.000 GeV/c","theta":101.8,"eff":0.998},{"p":"2.000 GeV/c","theta":102.7,"eff":1.0},{"p":"2.000 GeV/c","theta":103.6,"eff":0.999},{"p":"2.000 GeV/c","theta":104.5,"eff":1.0},{"p":"2.000 GeV/c","theta":105.4,"eff":0.998},{"p":"2.000 GeV/c","theta":106.3,"eff":1.0},{"p":"2.000 GeV/c","theta":107.2,"eff":0.999},{"p":"2.000 GeV/c","theta":108.1,"eff":1.0},{"p":"2.000 GeV/c","theta":109.0,"eff":0.998},{"p":"2.000 GeV/c","theta":109.9,"eff":1.0},{"p":"2.000 GeV/c","theta":110.8,"eff":0.999},{"p":"2.000 GeV/c","theta":111.7,"eff":1.0},{"p":"2.000 GeV/c","theta":112.6,"eff":0.998},{"p":"2.000 GeV/c","theta":113.5,"eff":1.0},{"p":"2.000 GeV/c","theta":114.4,"eff":0.999},{"p":"2.000 GeV/c","theta":115.3,"eff":1.0},{"p":"2.000 GeV/c","theta":116.2,"eff":0.998},{"p":"2.000 GeV/c","theta":117.1,"eff":1.0},{"p":"2.000 GeV/c","theta":118.0,"eff":0.999},{"p":"2.000 GeV/c","theta":118.9,"eff":1.0},{"p":"2.000 GeV/c","theta":119.8,"eff":0.998},{"p":"2.000 GeV/c","theta":120.7,"eff":1.0},{"p":"2.000 GeV/c","theta":121.6,"eff":0.999},{"p":"2.000 GeV/c","theta":122.5,"eff":1.0},{"p":"2.000 GeV/c","theta":123.4,"eff":0.998},{"p":"2.000 GeV/c","theta":124.3,"eff":1.0},{"p":"2.000 GeV/c","theta":125.2,"eff":0.999},{"p":"2.000 GeV/c","theta":126.1,"eff":1.0},{"p":"2.000 GeV/c","theta":127.0,"eff":0.998},{"p":"2.000 GeV/c","theta":127.9,"eff":1.0},{"p":"2.000 GeV/c","theta":128.8,"eff":0.999},{"p":"2.000 GeV/c","theta":129.7,"eff":1.0},{"p":"2.000 GeV/c","theta":130.6,"eff":0.998},{"p":"2.000 GeV/c","theta":131.5,"eff":1.0},{"p":"2.000 GeV/c","theta":132.4,"eff":0.999},{"p":"2.000 GeV/c","theta":133.3,"eff":1.0},{"p":"2.000 GeV/c","theta":134.2,"eff":0.998},{"p":"2.000 GeV/c","theta":135.1,"eff":1.0},{"p":"2.000 GeV/c","theta":136.0,"eff":0.997},{"p":"2.000 GeV/c","theta":136.9,"eff":0.998},{"p":"2.000 GeV/c","theta":137.8,"eff":0.996},{"p":"2.000 GeV/c","theta":138.7,"eff":0.995},{"p":"2.000 GeV/c","theta":139.6,"eff":0.993},{"p":"2.000 GeV/c","theta":140.5,"eff":0.99},{"p":"2.000 GeV/c","theta":141.4,"eff":0.995},{"p":"2.000 GeV/c","theta":142.3,"eff":0.992},{"p":"2.000 GeV/c","theta":143.2,"eff":0.987},{"p":"2.000 GeV/c","theta":144.1,"eff":0.993},{"p":"2.000 GeV/c","theta":144.9,"eff":0.919},{"p":"2.000 GeV/c","theta":145.7,"eff":0.738},{"p":"2.000 GeV/c","theta":146.7,"eff":0.557},{"p":"2.000 GeV/c","theta":147.4,"eff":0.553},{"p":"2.000 GeV/c","theta":148.2,"eff":0.541},{"p":"2.000 GeV/c","theta":148.9,"eff":0.53},{"p":"2.000 GeV/c","theta":149.5,"eff":0.48}
    ]
  },
  "layer": [
    {
      "data": {"name": "pts"},
      "mark": {"type": "point", "filled": true, "opacity": 1, "strokeWidth": 0},
      "encoding": {
        "x": {"field": "theta", "type": "quantitative", "scale": {"domain": [0, 165], "nice": false, "zero": false},
          "axis": {"orient": "bottom", "values": [0, 20, 40, 60, 80, 100, 120, 140, 160], "ticks": false, "labels": true, "format": "d",
            "labelFontSize": 17, "labelFontWeight": "bold", "labelColor": "black", "labelPadding": 4,
            "grid": true, "gridColor": "black", "gridDash": [2, 3], "gridWidth": 1, "gridOpacity": 1,
            "title": "Polar angle θ (degrees)", "titleFontSize": 22, "titleFontWeight": "bold", "titleColor": "black",
            "titleAnchor": "end", "titleAlign": "right", "titleBaseline": "middle", "titleX": 758, "titleY": 39}},
        "y": {"field": "eff", "type": "quantitative", "scale": {"domain": [0, 1.05], "nice": false, "zero": false},
          "axis": {"orient": "left", "values": [0, 0.2, 0.4, 0.6, 0.8, 1], "ticks": false, "labels": true,
            "labelExpr": "datum.value == 0 ? '0' : datum.value == 1 ? '1' : format(datum.value, '.1f')",
            "labelFontSize": 17, "labelFontWeight": "bold", "labelColor": "black", "labelPadding": 9,
            "grid": true, "gridColor": "black", "gridDash": [2, 3], "gridWidth": 1, "gridOpacity": 1,
            "title": "Tracking Efficiency", "titleFontSize": 21, "titleFontWeight": "bold", "titleColor": "black",
            "titleAngle": 270, "titleAlign": "right", "titleBaseline": "middle", "titleX": -62, "titleY": 14}},
        "color": {"field": "p", "type": "nominal",
          "scale": {"domain": ["0.350 GeV/c", "0.500 GeV/c", "1.000 GeV/c", "2.000 GeV/c"], "range": ["#1f3fff", "#ff3a1a", "#22ee22", "#ff44ff"]},
          "legend": {"orient": "none", "legendX": 450, "legendY": 327, "title": null, "padding": 0,
            "symbolSize": 75, "symbolOffset": 12.5, "labelOffset": 17,
            "labelFont": "Liberation Sans", "labelFontSize": 13, "labelFontWeight": "bold", "labelColor": "black", "rowPadding": 9.4}},
        "shape": {"field": "p", "type": "nominal",
          "scale": {"domain": ["0.350 GeV/c", "0.500 GeV/c", "1.000 GeV/c", "2.000 GeV/c"], "range": ["circle", "square", "triangle-up", "triangle-down"]},
          "legend": null},
        "size": {"field": "p", "type": "ordinal",
          "scale": {"domain": ["0.350 GeV/c", "0.500 GeV/c", "1.000 GeV/c", "2.000 GeV/c"], "range": [70, 110, 95, 95]},
          "legend": null}
      }
    },
    {
      "data": {"name": "pts"},
      "mark": {"type": "point", "opacity": 0},
      "encoding": {
        "x": {"field": "theta", "type": "quantitative",
          "axis": {"orient": "top", "offset": -16, "zindex": 3, "values": [0, 5, 10, 15, 20, 25, 30, 35, 40, 45, 50, 55, 60, 65, 70, 75, 80, 85, 90, 95, 100, 105, 110, 115, 120, 125, 130, 135, 140, 145, 150, 155, 160, 165],
            "ticks": true, "tickSize": 16, "tickColor": "#000000", "tickWidth": 1, "tickOpacity": 1,
            "tickDash": {"condition": {"test": "datum.value % 20 !== 0", "value": [0, 8, 8, 100]}, "value": [100, 1]},
            "labels": false, "grid": false, "title": null}},
        "y": {"field": "eff", "type": "quantitative",
          "axis": {"orient": "right", "offset": -22, "zindex": 3, "values": [0, 0.05, 0.1, 0.15, 0.2, 0.25, 0.3, 0.35, 0.4, 0.45, 0.5, 0.55, 0.6, 0.65, 0.7, 0.75, 0.8, 0.85, 0.9, 0.95, 1, 1.05],
            "ticks": true, "tickSize": 22, "tickColor": "#000000", "tickWidth": 1, "tickOpacity": 1,
            "tickDash": {"condition": {"test": "abs(datum.value * 5 - round(datum.value * 5)) > 0.001", "value": [0, 11, 11, 100]}, "value": [100, 1]},
            "labels": false, "grid": false, "title": null}}
      }
    },
    {
      "data": {"name": "pts"},
      "mark": {"type": "point", "opacity": 0},
      "encoding": {
        "x": {"field": "theta", "type": "quantitative",
          "axis": {"orient": "bottom", "offset": -16, "zindex": 3, "values": [0, 5, 10, 15, 20, 25, 30, 35, 40, 45, 50, 55, 60, 65, 70, 75, 80, 85, 90, 95, 100, 105, 110, 115, 120, 125, 130, 135, 140, 145, 150, 155, 160, 165],
            "ticks": true, "tickSize": 16, "tickColor": "#000000", "tickWidth": 1, "tickOpacity": 1,
            "tickDash": {"condition": {"test": "datum.value % 20 !== 0", "value": [0, 8, 8, 100]}, "value": [100, 1]},
            "labels": false, "grid": false, "title": null}},
        "y": {"field": "eff", "type": "quantitative",
          "axis": {"orient": "left", "offset": -22, "zindex": 3, "values": [0, 0.05, 0.1, 0.15, 0.2, 0.25, 0.3, 0.35, 0.4, 0.45, 0.5, 0.55, 0.6, 0.65, 0.7, 0.75, 0.8, 0.85, 0.9, 0.95, 1, 1.05],
            "ticks": true, "tickSize": 22, "tickColor": "#000000", "tickWidth": 1, "tickOpacity": 1,
            "tickDash": {"condition": {"test": "abs(datum.value * 5 - round(datum.value * 5)) > 0.001", "value": [0, 11, 11, 100]}, "value": [100, 1]},
            "labels": false, "grid": false, "title": null}}
      }
    },
    {
      "data": {"values": [{}]},
      "mark": {"type": "rect", "fill": "#333333"},
      "encoding": {
        "x": {"datum": -18.0, "type": "quantitative", "axis": null},
        "x2": {"datum": 43.0},
        "y": {"datum": 1.169, "type": "quantitative", "axis": null},
        "y2": {"datum": 1.098}
      }
    },
    {
      "data": {"values": [{}]},
      "mark": {"type": "rect", "fill": "#f4f4f4", "stroke": "#222222", "strokeWidth": 1},
      "encoding": {
        "x": {"datum": -18.67, "type": "quantitative", "axis": null},
        "x2": {"datum": 42.3},
        "y": {"datum": 1.1755, "type": "quantitative", "axis": null},
        "y2": {"datum": 1.1044}
      }
    },
    {
      "data": {"values": [{}]},
      "mark": {"type": "text", "font": "Liberation Sans", "fontWeight": "bold", "fontSize": 28, "color": "black", "align": "center", "baseline": "middle"},
      "encoding": {
        "x": {"datum": 13.2, "type": "quantitative", "axis": null},
        "y": {"datum": 1.142, "type": "quantitative", "axis": null},
        "text": {"value": "Tracking Efficiency"}
      }
    },
    {
      "data": {"values": [{}]},
      "mark": {"type": "text", "font": "Liberation Sans", "fontWeight": "bold", "fontSize": 15.5, "color": "black", "align": "right", "baseline": "middle"},
      "encoding": {
        "x": {"datum": 142.2, "type": "quantitative", "axis": null},
        "y": {"datum": 1.138, "type": "quantitative", "axis": null},
        "text": {"value": "Single proton\u00a0\u00a0\u00a0MULS ON"}
      }
    },
    {
      "data": {"values": [{}]},
      "mark": {"type": "text", "font": "Liberation Sans", "fontWeight": "bold", "fontSize": 18, "color": "#2e43ff", "align": "right", "baseline": "middle"},
      "encoding": {
        "x": {"datum": 181.5, "type": "quantitative", "axis": null},
        "y": {"datum": 1.153, "type": "quantitative", "axis": null},
        "text": {"value": "August 8, 2009 DL"}
      }
    },
    {
      "data": {"values": [{}]},
      "mark": {"type": "text", "font": "Liberation Sans", "fontWeight": "bold", "fontSize": 9, "color": "#2e43ff", "align": "right", "baseline": "middle"},
      "encoding": {
        "x": {"datum": 181.3, "type": "quantitative", "axis": null},
        "y": {"datum": 1.1165, "type": "quantitative", "axis": null},
        "text": {"value": "svn revision: 5431"}
      }
    },
    {
      "data": {"values": [{}]},
      "mark": {"type": "text", "font": "Liberation Sans", "fontWeight": "bold", "fontSize": 16, "color": "black", "align": "right", "baseline": "middle"},
      "encoding": {
        "x": {"datum": 181.5, "type": "quantitative", "axis": null},
        "y": {"datum": 1.084, "type": "quantitative", "axis": null},
        "text": {"value": "Full Reconstruction (ALT1_no_truth)"}
      }
    },
    {
      "data": {"values": [{}]},
      "mark": {"type": "rect", "fill": "white", "stroke": "black", "strokeWidth": 1.5},
      "encoding": {
        "x": {"datum": 41.9, "type": "quantitative", "axis": null},
        "x2": {"datum": 136.7},
        "y": {"datum": 0.5637, "type": "quantitative", "axis": null},
        "y2": {"datum": 0.3852}
      }
    },
    {
      "data": {"values": [{}]},
      "mark": {"type": "text", "font": "Lato", "fontSize": 44, "color": "black", "align": "center", "baseline": "middle"},
      "encoding": {
        "x": {"datum": 89.2, "type": "quantitative", "axis": null},
        "y": {"datum": 0.474, "type": "quantitative", "axis": null},
        "text": {"value": "No “truth” info used"}
      }
    },
    {
      "data": {"values": [{}]},
      "mark": {"type": "rect", "fill": "black"},
      "encoding": {
        "x": {"datum": 97.7, "type": "quantitative", "axis": null},
        "x2": {"datum": 138.5},
        "y": {"datum": 0.3488, "type": "quantitative", "axis": null},
        "y2": {"datum": 0.1529}
      }
    },
    {
      "data": {"values": [{}]},
      "mark": {"type": "rect", "fill": "white", "stroke": "black", "strokeWidth": 1},
      "encoding": {
        "x": {"datum": 96.4, "type": "quantitative", "axis": null},
        "x2": {"datum": 137.4},
        "y": {"datum": 0.3617, "type": "quantitative", "axis": null},
        "y2": {"datum": 0.1636}
      }
    },
    {
      "data": {"values": [{}]},
      "mark": {"type": "rule", "color": "#1f3fff", "strokeWidth": 1.5},
      "encoding": {
        "x": {"datum": 97.7, "type": "quantitative", "axis": null},
        "x2": {"datum": 105.3},
        "y": {"datum": 0.3335, "type": "quantitative", "axis": null}
      }
    },
    {
      "data": {"values": [{}]},
      "mark": {"type": "rule", "color": "#ff3a1a", "strokeWidth": 1.5},
      "encoding": {
        "x": {"datum": 97.7, "type": "quantitative", "axis": null},
        "x2": {"datum": 105.3},
        "y": {"datum": 0.2855, "type": "quantitative", "axis": null}
      }
    },
    {
      "data": {"values": [{}]},
      "mark": {"type": "rule", "color": "#22ee22", "strokeWidth": 1.5},
      "encoding": {
        "x": {"datum": 97.7, "type": "quantitative", "axis": null},
        "x2": {"datum": 105.3},
        "y": {"datum": 0.2365, "type": "quantitative", "axis": null}
      }
    },
    {
      "data": {"values": [{}]},
      "mark": {"type": "rule", "color": "#ff44ff", "strokeWidth": 1.5},
      "encoding": {
        "x": {"datum": 97.7, "type": "quantitative", "axis": null},
        "x2": {"datum": 105.3},
        "y": {"datum": 0.1875, "type": "quantitative", "axis": null}
      }
    }
  ]
}
